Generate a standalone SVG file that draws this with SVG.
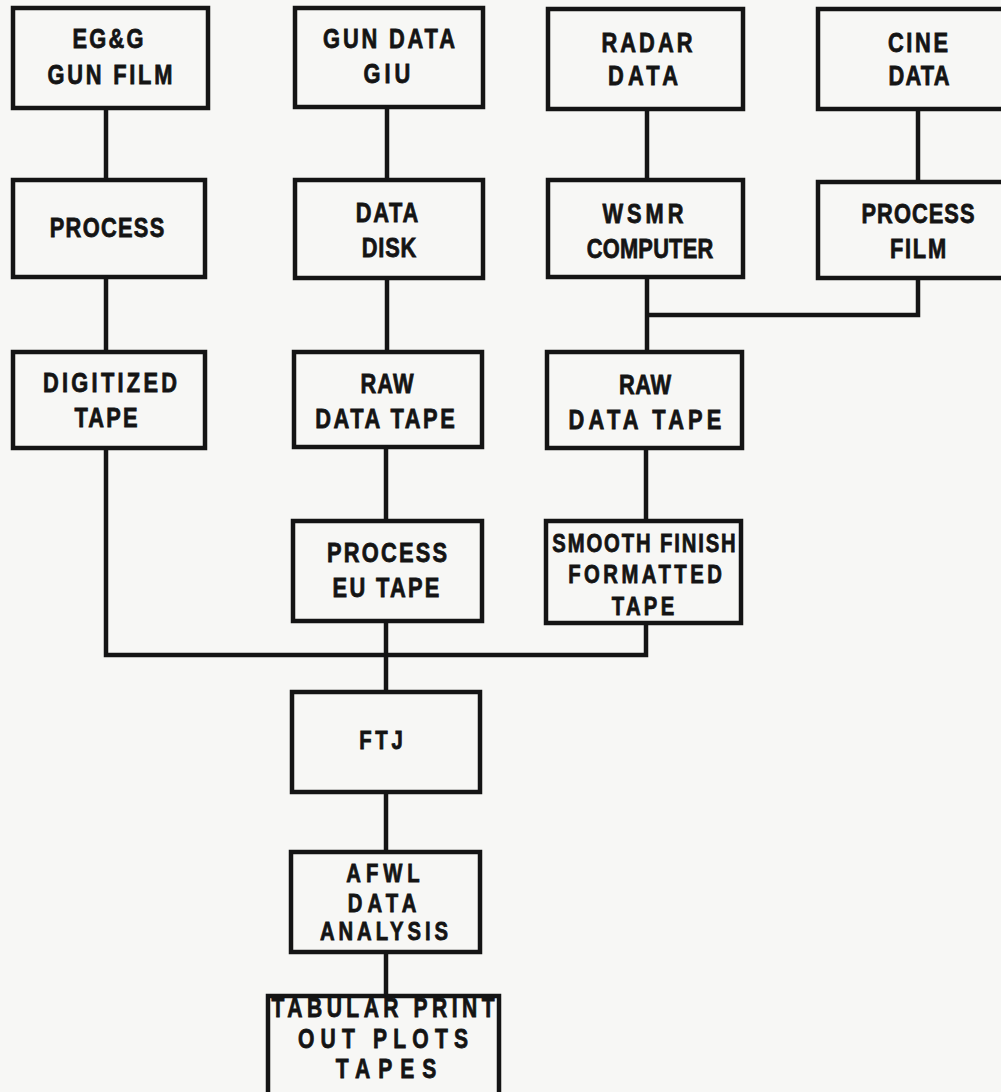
<svg xmlns="http://www.w3.org/2000/svg" width="1001" height="1092" viewBox="0 0 1001 1092">
<style>
.box{fill:none;stroke:#141414;stroke-width:4.5}
.ln{fill:none;stroke:#141414;stroke-width:4.5;stroke-linejoin:miter}
text{font-family:"Liberation Sans",Arial,sans-serif;font-weight:bold;font-size:28px;fill:#141414;stroke:#141414;stroke-width:0.8;text-anchor:middle}
.s{font-size:26px}
.t{font-size:27px}
</style>
<rect x="0" y="0" width="1001" height="1092" fill="#f7f7f5"/>
<g id="connectors">
<path class="ln" d="M106 108V180"/>
<path class="ln" d="M387 107V180"/>
<path class="ln" d="M647 109V180"/>
<path class="ln" d="M918 109V182"/>
<path class="ln" d="M106 277V352"/>
<path class="ln" d="M387 278V352"/>
<path class="ln" d="M647 277V352M647 315H918V278"/>
<path class="ln" d="M106 448V655H646V623"/>
<path class="ln" d="M386 447V521"/>
<path class="ln" d="M646 448V521"/>
<path class="ln" d="M386 621V692"/>
<path class="ln" d="M386 792V852"/>
<path class="ln" d="M386 952V996"/>
</g>
<g id="n-egg"><rect class="box" x="13" y="8" width="195" height="100"/>
<text transform="translate(108 48) scale(0.78 1)" textLength="91" lengthAdjust="spacing">EG&amp;G</text>
<text transform="translate(110 84) scale(0.78 1)" textLength="160" lengthAdjust="spacing">GUN FILM</text></g>
<g id="n-gundata"><rect class="box" x="295" y="8" width="188" height="99"/>
<text transform="translate(389 48) scale(0.78 1)" textLength="169" lengthAdjust="spacing">GUN DATA</text>
<text transform="translate(387 83) scale(0.78 1)" textLength="60" lengthAdjust="spacing">GIU</text></g>
<g id="n-radar"><rect class="box" x="548" y="9" width="195" height="100"/>
<text transform="translate(647 52) scale(0.78 1)" textLength="117" lengthAdjust="spacing">RADAR</text>
<text transform="translate(643 85) scale(0.78 1)" textLength="90" lengthAdjust="spacing">DATA</text></g>
<g id="n-cine"><rect class="box" x="818" y="9" width="200" height="100"/>
<text transform="translate(918 52) scale(0.78 1)" textLength="77" lengthAdjust="spacing">CINE</text>
<text transform="translate(919 85) scale(0.78 1)" textLength="78" lengthAdjust="spacing">DATA</text></g>
<g id="n-process"><rect class="box" x="13" y="180" width="192" height="97"/>
<text transform="translate(107 237) scale(0.78 1)" textLength="147" lengthAdjust="spacing">PROCESS</text></g>
<g id="n-datadisk"><rect class="box" x="295" y="180" width="188" height="98"/>
<text transform="translate(387 222) scale(0.78 1)" textLength="80" lengthAdjust="spacing">DATA</text>
<text transform="translate(389 257) scale(0.78 1)" textLength="70" lengthAdjust="spacing">DISK</text></g>
<g id="n-wsmr"><rect class="box" x="548" y="180" width="195" height="97"/>
<text transform="translate(643 223) scale(0.78 1)" textLength="104" lengthAdjust="spacing">WSMR</text>
<text transform="translate(650 258) scale(0.78 1)" textLength="162" lengthAdjust="spacing">COMPUTER</text></g>
<g id="n-processfilm"><rect class="box" x="818" y="182" width="200" height="96"/>
<text transform="translate(918 223) scale(0.78 1)" textLength="145" lengthAdjust="spacing">PROCESS</text>
<text transform="translate(918 258) scale(0.78 1)" textLength="72" lengthAdjust="spacing">FILM</text></g>
<g id="n-digitized"><rect class="box" x="13" y="352" width="192" height="96"/>
<text transform="translate(110 392) scale(0.78 1)" textLength="172" lengthAdjust="spacing">DIGITIZED</text>
<text transform="translate(106 427) scale(0.78 1)" textLength="81" lengthAdjust="spacing">TAPE</text></g>
<g id="n-raw1"><rect class="box" x="294" y="352" width="188" height="95"/>
<text transform="translate(387 393) scale(0.78 1)" textLength="68" lengthAdjust="spacing">RAW</text>
<text transform="translate(385 428) scale(0.78 1)" textLength="179" lengthAdjust="spacing">DATA TAPE</text></g>
<g id="n-raw2"><rect class="box" x="547" y="352" width="195" height="96"/>
<text transform="translate(645 394) scale(0.78 1)" textLength="67" lengthAdjust="spacing">RAW</text>
<text transform="translate(645 429) scale(0.78 1)" textLength="196" lengthAdjust="spacing">DATA TAPE</text></g>
<g id="n-eu"><rect class="box" x="293" y="521" width="189" height="100"/>
<text transform="translate(387 562) scale(0.78 1)" textLength="154" lengthAdjust="spacing">PROCESS</text>
<text transform="translate(386 597) scale(0.78 1)" textLength="137" lengthAdjust="spacing">EU TAPE</text></g>
<g id="n-smooth"><rect class="box" x="546" y="521" width="195" height="102"/>
<text class="s" transform="translate(644 552) scale(0.78 1)" textLength="235" lengthAdjust="spacing">SMOOTH FINISH</text>
<text class="s" transform="translate(645 583) scale(0.78 1)" textLength="197" lengthAdjust="spacing">FORMATTED</text>
<text class="s" transform="translate(643 615) scale(0.78 1)" textLength="80" lengthAdjust="spacing">TAPE</text></g>
<g id="n-ftj"><rect class="box" x="292" y="692" width="188" height="100"/>
<text class="s" transform="translate(381 749) scale(0.78 1)" textLength="56" lengthAdjust="spacing">FTJ</text></g>
<g id="n-afwl"><rect class="box" x="291" y="852" width="189" height="100"/>
<text class="s" transform="translate(383 882) scale(0.78 1)" textLength="94" lengthAdjust="spacing">AFWL</text>
<text class="s" transform="translate(382 912) scale(0.78 1)" textLength="88" lengthAdjust="spacing">DATA</text>
<text class="s" transform="translate(384 940) scale(0.78 1)" textLength="164" lengthAdjust="spacing">ANALYSIS</text></g>
<g id="n-tabular"><rect class="box" x="268" y="996" width="231" height="110"/>
<text class="t" transform="translate(383 1017) scale(0.78 1)" textLength="286" lengthAdjust="spacing">TABULAR PRINT</text>
<text class="t" transform="translate(383 1048) scale(0.78 1)" textLength="218" lengthAdjust="spacing">OUT PLOTS</text>
<text class="t" transform="translate(386 1078) scale(0.78 1)" textLength="129" lengthAdjust="spacing">TAPES</text></g>
</svg>
